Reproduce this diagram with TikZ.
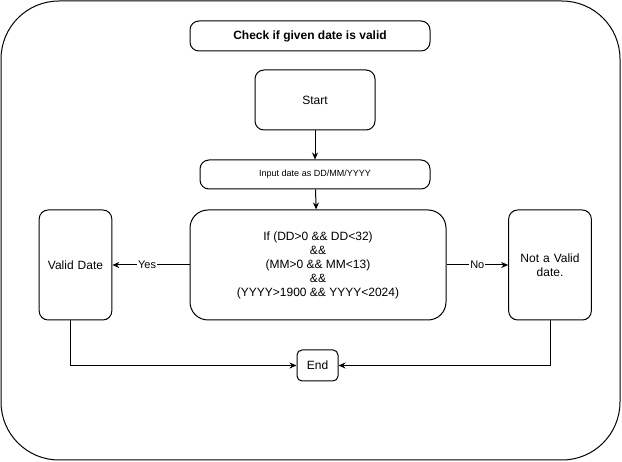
\documentclass[tikz,border=0pt]{standalone}
\usepackage{fontspec}
\setmainfont{Liberation Sans}
\usetikzlibrary{arrows.meta}
\begin{document}
\begin{tikzpicture}[x=1pt,y=-1pt,
  box/.style={draw=black,line width=1pt,rounded corners=9pt,align=center,font=\fontsize{12}{14}\selectfont},
  arr/.style={line width=1pt,-{Stealth[length=7pt,width=6pt]}},
  lbl/.style={font=\fontsize{11}{13}\selectfont,fill=white,inner sep=1pt}]
\useasboundingbox (0,0) rectangle (622,462);
\draw[line width=1pt,rounded corners=58pt] (1,1) rectangle (620,460);
\node[box,minimum width=240pt,minimum height=30pt,font=\fontsize{12}{14}\selectfont\bfseries] (title) at (310,36) {Check if given date is valid};
\node[box,minimum width=120pt,minimum height=60pt] (start) at (315,100) {Start};
\node[box,minimum width=230pt,minimum height=29pt,font=\fontsize{9}{11}\selectfont] (input) at (315,174.5) {Input date as DD/MM/YYYY};
\node[box,minimum width=256pt,minimum height=110pt,rounded corners=18pt] (cond) at (318,265) {If (DD>0 \&\& DD<32)\\\&\&\\(MM>0 \&\& MM<13)\\\&\&\\(YYYY>1900 \&\& YYYY<2024)};
\node[box,minimum width=70pt,minimum height=110pt,text width=66pt] (valid) at (75.5,265) {Valid Date};
\node[box,minimum width=80pt,minimum height=110pt,text width=76pt] (invalid) at (550,265) {Not a Valid\\date.};
\node[box,minimum width=41pt,minimum height=31pt,rounded corners=5pt] (end) at (317.5,365.5) {End};
\path (valid.south) ++(-5,0) coordinate (vb);
\draw[arr] (start) -- (input);
\draw[arr] (input) -- (cond);
\draw[arr] (cond) -- node[lbl,pos=0.55]{Yes} (valid);
\draw[arr] (cond) -- node[lbl,pos=0.5]{No} (invalid);
\draw[arr] (vb) |- (end.west);
\draw[arr] (invalid.south) |- (end.east);
\end{tikzpicture}
\end{document}
